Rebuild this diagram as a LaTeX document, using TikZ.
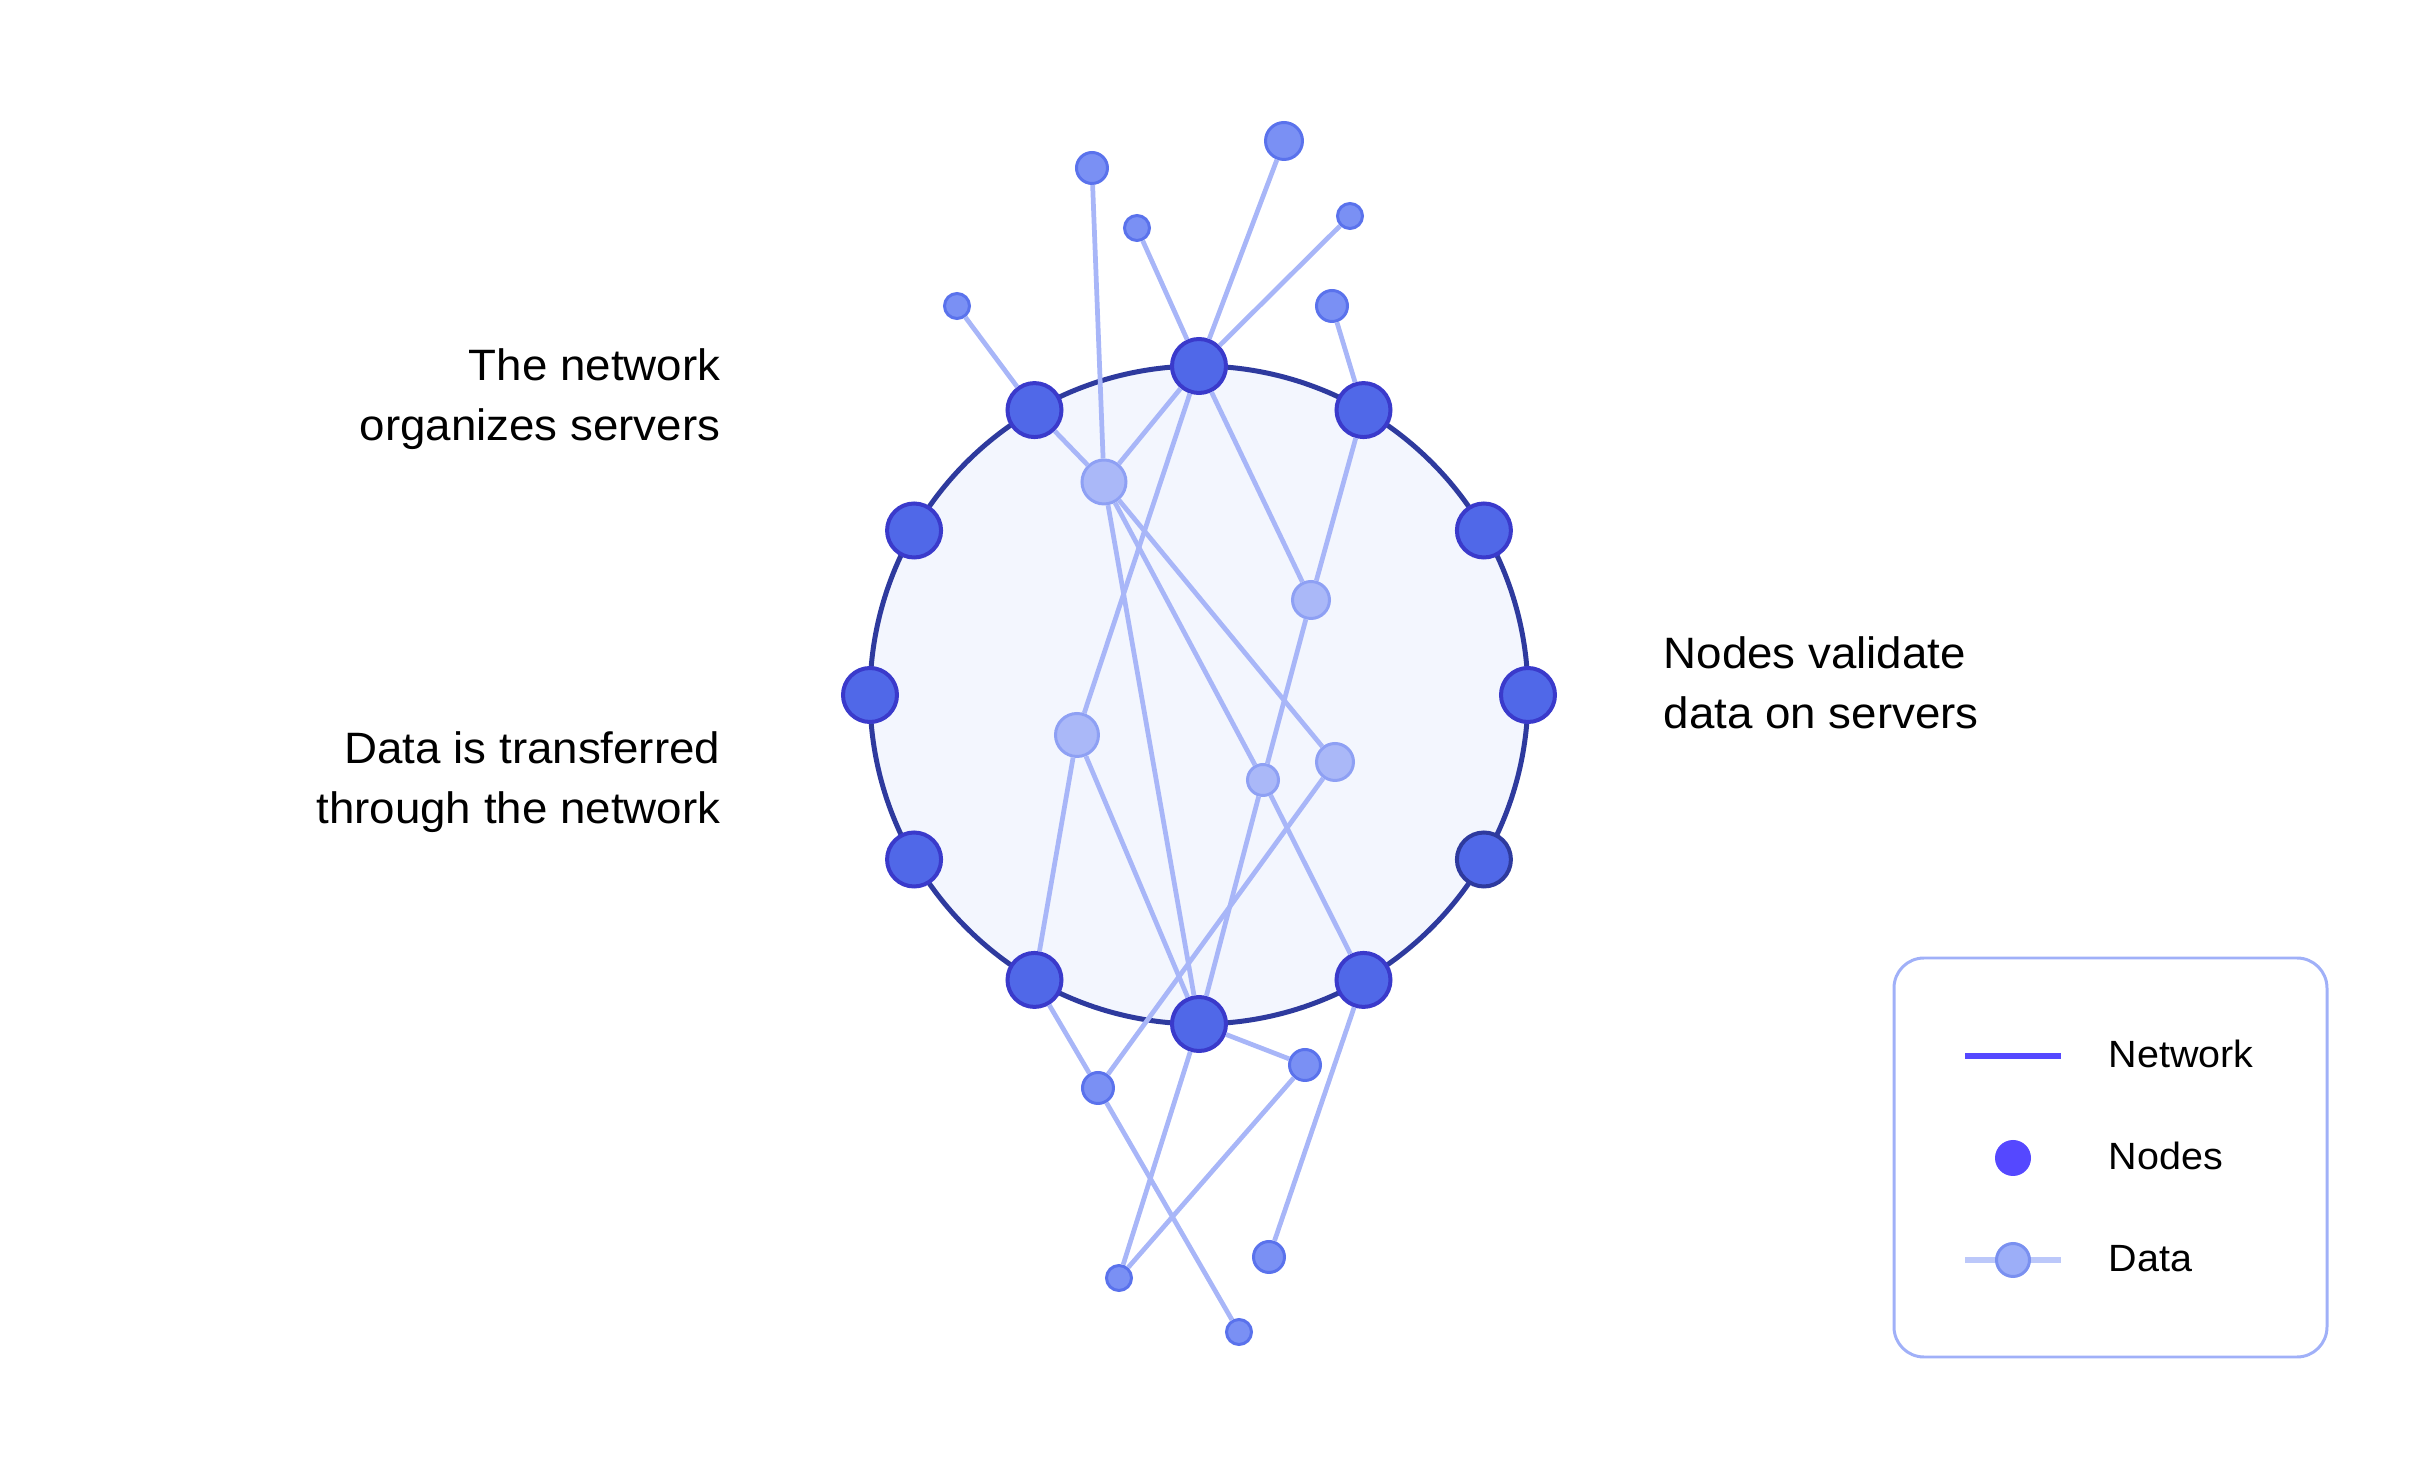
\documentclass[tikz,border=0pt]{standalone}
\usepackage{fontspec}
\setmainfont{Liberation Sans}[FakeStretch=1.04]
\usetikzlibrary{positioning}
\definecolor{RingLine}{HTML}{2E3A9E}
\definecolor{RingFill}{HTML}{F3F6FE}
\definecolor{SrvFill}{HTML}{5068E8}
\definecolor{SrvLine}{HTML}{3A3ACB}
\definecolor{DataFill}{HTML}{AAB8F8}
\definecolor{DataLine}{HTML}{8EA0F4}
\definecolor{TipFill}{HTML}{7A90F4}
\definecolor{TipLine}{HTML}{5A72EC}
\definecolor{Link}{HTML}{A8B6F8}
\definecolor{KeyBlue}{HTML}{5548FF}
\definecolor{KeyLink}{HTML}{BCC8FA}
\definecolor{KeyData}{HTML}{9CAEF8}
\definecolor{KeyDataLine}{HTML}{7A90F0}
\definecolor{KeyFrame}{HTML}{A0B0F8}

\tikzset{
	srv/.style={circle, fill=SrvFill, draw=SrvLine, line width=1.14pt, inner sep=0pt, minimum size=0.54cm},
	dat/.style={circle, fill=DataFill, draw=DataLine, line width=0.85pt, inner sep=0pt, minimum size=#1},
	tip/.style={circle, fill=TipFill, draw=TipLine, line width=0.85pt, inner sep=0pt, minimum size=#1},
	link/.style={Link, line width=1.35pt},
	lbl/.style={font=\fontsize{12.5}{15}\selectfont, inner sep=0pt},
	keylbl/.style={font=\fontsize{10.8}{13}\selectfont, inner sep=0pt, anchor=base west}
}

\begin{document}
\begin{tikzpicture}
					\useasboundingbox (-11.99,-7.72) rectangle (12.37,6.95);
					% ring of servers
					\draw[RingLine, fill=RingFill, line width=1.42pt] (0,0) circle (3.29);
					\foreach \a/\c [count=\i from 0] in {0/SrvLine,30/SrvLine,60/SrvLine,90/SrvLine,120/SrvLine,150/SrvLine,180/SrvLine,210/SrvLine,240/SrvLine,270/SrvLine,300/SrvLine,330/RingLine}
					\node[srv, draw=\c] (n\i) at (\a:3.29) {};
					% data inside the ring
					\node[dat=0.44cm] (d1) at (-0.95,2.13) {};
					\node[dat=0.37cm] (d2) at (1.12,0.95) {};
					\node[dat=0.43cm] (d3) at (-1.22,-0.40) {};
					\node[dat=0.31cm] (d4) at (0.64,-0.85) {};
					\node[dat=0.37cm] (d5) at (1.36,-0.67) {};
					% data outside the ring
					\node[tip=0.31cm] (o1) at (-1.07,5.27) {};
					\node[tip=0.37cm] (o2) at (0.85,5.54) {};
					\node[tip=0.25cm] (o3) at (-0.62,4.67) {};
					\node[tip=0.25cm] (o4) at (1.51,4.79) {};
					\node[tip=0.25cm] (o5) at (-2.42,3.89) {};
					\node[tip=0.31cm] (o6) at (1.33,3.89) {};
					\node[tip=0.31cm] (p1) at (-1.01,-3.93) {};
					\node[tip=0.31cm] (p2) at (1.06,-3.70) {};
					\node[tip=0.31cm] (p3) at (0.70,-5.62) {};
					\node[tip=0.25cm] (p4) at (-0.80,-5.83) {};
					\node[tip=0.25cm] (p5) at (0.40,-6.37) {};
					% links
					\draw[link] (o5) -- (n4);
					\draw[link] (n4) -- (d1);
					\draw[link] (o1) -- (d1);
					\draw[link] (d1) -- (n3);
					\draw[link] (d1) -- (n9);
					\draw[link] (d1) -- (d4);
					\draw[link] (d1) -- (d5);
					\draw[link] (d4) -- (n10);
					\draw[link] (d5) -- (p1);
					\draw[link] (n3) -- (o3);
					\draw[link] (n3) -- (o2);
					\draw[link] (n3) -- (o4);
					\draw[link] (n3) -- (d3);
					\draw[link] (n3) -- (d2);
					\draw[link] (n2) -- (o6);
					\draw[link] (n2) -- (d2);
					\draw[link] (d2) -- (d4);
					\draw[link] (d4) -- (n9);
					\draw[link] (d3) -- (n8);
					\draw[link] (d3) -- (n9);
					\draw[link] (n8) -- (p1);
					\draw[link] (p1) -- (p5);
					\draw[link] (n9) -- (p2);
					\draw[link] (p2) -- (p4);
					\draw[link] (n9) -- (p4);
					\draw[link] (n10) -- (p3);
					% labels
					\node[lbl, anchor=base east] (org1) at (-4.78,3.14) {The network};
					\node[lbl, below=0.60cm of org1.base east, anchor=base east] (org2) {organizes servers};
					\node[lbl, anchor=base east] (trf1) at (-4.78,-0.69) {Data is transferred};
					\node[lbl, below=0.60cm of trf1.base east, anchor=base east] (trf2) {through the network};
					\node[lbl, anchor=base west] (val1) at (4.64,0.26) {Nodes validate};
					\node[lbl, below=0.60cm of val1.base west, anchor=base west] (val2) {data on servers};
					% legend
					\draw[KeyFrame, line width=0.85pt, rounded corners=0.3cm] (6.95,-2.63) rectangle (11.28,-6.62);
					\coordinate (k1a) at (7.66,-3.61);
					\coordinate (k1b) at (8.62,-3.61);
					\draw[KeyBlue, line width=1.7pt] (k1a) -- (k1b);
					\node[circle, fill=KeyBlue, inner sep=0pt, minimum size=0.36cm] (k2) at (8.14,-4.63) {};
					\coordinate (k3a) at (7.66,-5.65);
					\coordinate (k3b) at (8.62,-5.65);
					\draw[KeyLink, line width=1.7pt] (k3a) -- (k3b);
					\node[circle, fill=KeyData, draw=KeyDataLine, line width=0.85pt, inner sep=0pt, minimum size=0.33cm] (k3) at (8.14,-5.65) {};
					\node[keylbl] (t1) at (9.09,-3.73) {Network};
					\node[keylbl] (t2) at (9.09,-4.75) {Nodes};
					\node[keylbl] (t3) at (9.09,-5.77) {Data};
				\end{tikzpicture}
\end{document}
